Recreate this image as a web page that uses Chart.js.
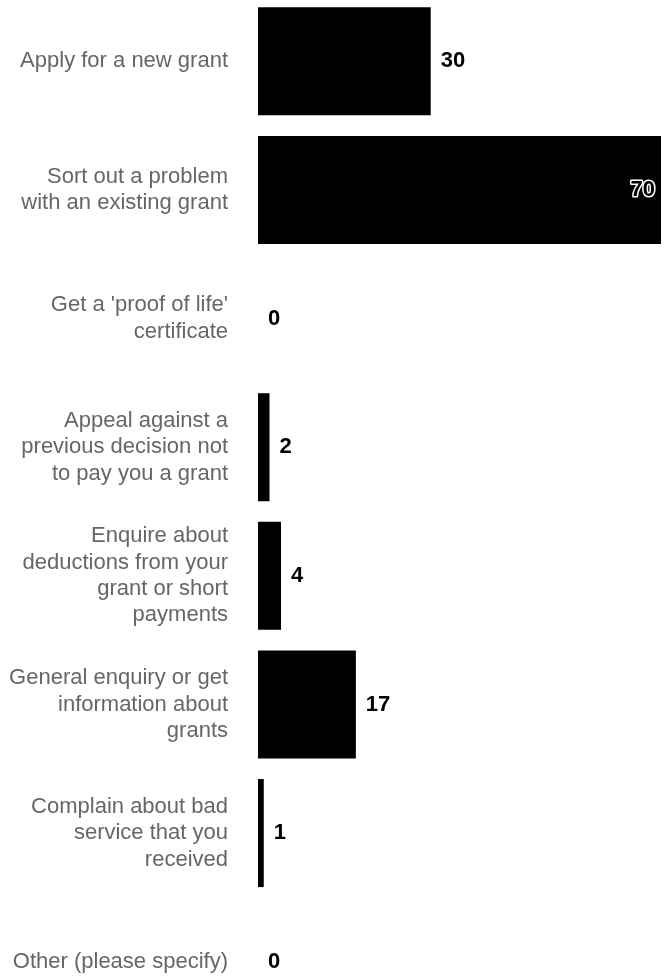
<!DOCTYPE html>
<html>
<head>
<meta charset="utf-8">
<script src="https://cdn.jsdelivr.net/npm/chart.js@4"></script>
<style>
    html, body { margin: 0; padding: 0; overflow: hidden; background: #fff; }
    #wrap { position: absolute; left: 0; top: -3px; width: 671px; height: 1029px; }
</style>
</head>
<body>
<div id="wrap"><canvas id="chart"></canvas></div>
<script>
// ---------- Data ----------

const categories = [
    ["Apply for a new grant"],
    ["Sort out a problem", "with an existing grant"],
    ["Get a 'proof of life'", "certificate"],
    ["Appeal against a", "previous decision not", "to pay you a grant"],
    ["Enquire about", "deductions from your", "grant or short", "payments"],
    ["General enquiry or get", "information about", "grants"],
    ["Complain about bad", "service that you", "received"],
    ["Other (please specify)"]
];

const counts = [30, 70, 0, 2, 4, 17, 1, 0];

const FONT = "Helvetica, Arial, 'Liberation Sans', sans-serif";

// ---------- Value labels ----------

// draws the number after each bar; moves it inside when it would run off the chart
const valueLabels = {
    id: 'valueLabels',
    afterDatasetsDraw(chart) {
        const ctx = chart.ctx;
        const area = chart.chartArea;
        const meta = chart.getDatasetMeta(0);
        ctx.save();
        ctx.font = "bold 22px " + FONT;
        ctx.textBaseline = 'middle';
        meta.data.forEach((bar, i) => {
            const text = String(counts[i]);
            const w = ctx.measureText(text).width;
            let x = bar.x + 10;
            ctx.fillStyle = '#000';
            if (x + w > area.right) {
                // outlined text inside the bar end
                ctx.textAlign = 'right';
                x = bar.x - 6;
                ctx.lineWidth = 3;
                ctx.lineJoin = 'round';
                ctx.strokeStyle = '#fff';
                ctx.strokeText(text, x, bar.y);
                ctx.fillText(text, x, bar.y);
            } else {
                ctx.textAlign = 'left';
                ctx.fillText(text, x, bar.y);
            }
        });
        ctx.restore();
    }
};

// ---------- Chart ----------

new Chart(document.getElementById('chart'), {
    type: 'bar',
    data: {
        labels: categories,
        datasets: [{
            data: counts,
            backgroundColor: '#000',
            borderWidth: 0,
            barPercentage: 0.84,
            categoryPercentage: 1
        }]
    },
    options: {
        indexAxis: 'y',
        responsive: true,
        maintainAspectRatio: false,
        animation: false,
        layout: { padding: { right: 10 } },
        plugins: {
            legend: { display: false },
            tooltip: { enabled: false }
        },
        scales: {
            x: {
                display: false,
                min: 0,
                max: 70
            },
            y: {
                border: { display: false },
                grid: { display: false, drawTicks: false },
                ticks: {
                    padding: 30,
                    color: '#666',
                    font: { family: FONT, size: 22, lineHeight: 1.2 }
                },
                afterFit(scale) {
                    scale.width = 258;
                    scale.paddingTop = 0;
                    scale.paddingBottom = 0;
                }
            }
        }
    },
    plugins: [valueLabels]
});
</script>
</body>
</html>
